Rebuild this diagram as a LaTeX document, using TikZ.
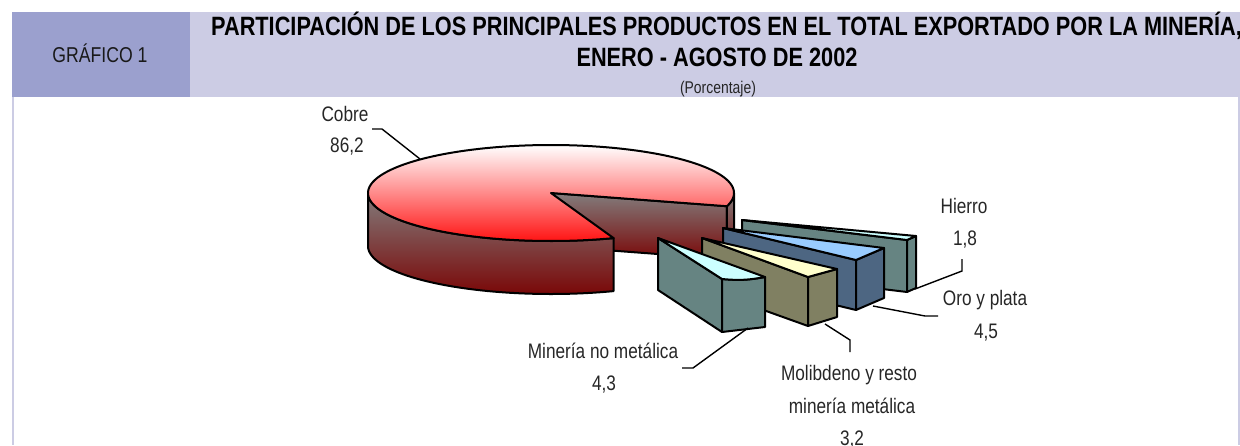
\documentclass[tikz,border=0pt]{standalone}
\usepackage{fontspec}
\setmainfont{Liberation Sans}[FakeStretch=0.82]
\definecolor{hdrdark}{RGB}{155,160,206}
\definecolor{hdrlight}{RGB}{204,204,228}
\definecolor{tealside}{RGB}{102,132,130}
\definecolor{lightcyan}{RGB}{204,255,255}
\definecolor{oroside}{RGB}{77,102,130}
\definecolor{orotop}{RGB}{153,204,255}
\definecolor{molside}{RGB}{128,128,98}
\definecolor{moltop}{RGB}{255,255,204}
\definecolor{pieside1}{RGB}{130,124,124}
\definecolor{pieside2}{RGB}{122,8,8}
\definecolor{pietop}{RGB}{255,20,20}
\tikzset{
  blk/.style={draw=black, line width=2pt, line join=round},
  pieline/.style={draw=black, line width=2pt, line join=round},
  ldr/.style={draw=black, line width=1.4pt},
  lbl/.style={font=\fontsize{21}{25}\selectfont, anchor=base, inner sep=0pt, text=black!85},
  frameline/.style={draw=hdrlight, line width=2pt}
}
\begin{document}
\begin{tikzpicture}[x=1pt,y=-1pt]
\useasboundingbox (0,0) rectangle (1240,445);
\clip (0,0) rectangle (1240,445);
% header
\fill[hdrdark] (12,12) rectangle (190,97);
\fill[hdrlight] (190,12) rectangle (1240,97);
\draw[frameline] (12.5,97) -- (12.5,445);
\draw[frameline] (1239,97) -- (1239,445);
\node[font=\fontsize{21.5}{25}\selectfont, anchor=base, inner sep=0pt, text=black!90] (gr) at (100,62) {GRÁFICO 1};
\node[font=\fontsize{26.5}{30}\selectfont\bfseries, anchor=base west, inner sep=0pt] (t1) at (211,35) {PARTICIPACIÓN DE LOS PRINCIPALES PRODUCTOS EN EL TOTAL EXPORTADO POR LA MINERÍA,};
\node[font=\fontsize{26.5}{30}\selectfont\bfseries, anchor=base, inner sep=0pt] (t2) at (717,66) {ENERO - AGOSTO DE 2002};
\node[font=\fontsize{17}{20}\selectfont, anchor=base, inner sep=0pt, text=black!85] (t3) at (718,93) {(Porcentaje)};
% pie: inner cut face
\draw[pieline, top color=pieside1, bottom color=pieside2]
  (551,193) -- (726.9,206.2) -- (726.9,259.2) -- (551,246) -- cycle;
% right strip of outer side
\draw[pieline, top color=pieside1, bottom color=pieside2]
  plot[domain=0:16, samples=20, variable=\t] ({551+183*cos(\t)},{193+48*sin(\t)})
  -- plot[domain=16:0, samples=20, variable=\t] ({551+183*cos(\t)},{246+48*sin(\t)}) -- cycle;
% front outer side
\draw[pieline, top color=pieside1, bottom color=pieside2]
  plot[domain=70:180, samples=80, variable=\t] ({551+183*cos(\t)},{193+48*sin(\t)})
  -- plot[domain=180:70, samples=80, variable=\t] ({551+183*cos(\t)},{246+48*sin(\t)}) -- cycle;
% top face
\draw[pieline, top color=white, bottom color=pietop]
  (551,193) -- plot[domain=70:376, samples=160, variable=\t] ({551+183*cos(\t)},{193+48*sin(\t)}) -- cycle;
% Hierro block
\coordinate (hA) at (742,220); \coordinate (hF) at (907,240); \coordinate (hB) at (916,236);
\coordinate (hAd) at (742,272); \coordinate (hFd) at (907,292); \coordinate (hBd) at (916,288);
\draw[blk, fill=tealside] (hA) -- (hF) -- (hFd) -- (hAd) -- cycle;
\draw[blk, fill=tealside] (hF) -- (hB) -- (hBd) -- (hFd) -- cycle;
\draw[blk, fill=lightcyan] (hA) -- (hF) -- (hB) -- cycle;
% Oro y plata block
\coordinate (oA) at (723,228); \coordinate (oF) at (856,260); \coordinate (oB) at (884,248);
\coordinate (oAd) at (723,278); \coordinate (oFd) at (856,310); \coordinate (oBd) at (884,298);
\draw[blk, fill=oroside] (oA) -- (oF) -- (oFd) -- (oAd) -- cycle;
\draw[blk, fill=oroside] (oF) -- (oB) -- (oBd) -- (oFd) -- cycle;
\draw[blk, fill=orotop] (oA) -- (oF) -- (oB) -- cycle;
% Molibdeno block
\coordinate (mA) at (702,238); \coordinate (mF) at (808,277); \coordinate (mB) at (837,269);
\coordinate (mAd) at (702,288); \coordinate (mFd) at (808,326); \coordinate (mBd) at (837,317);
\draw[blk, fill=molside] (mA) -- (mF) -- (mFd) -- (mAd) -- cycle;
\draw[blk, fill=molside] (mF) -- (mB) -- (mBd) -- (mFd) -- cycle;
\draw[blk, fill=moltop] (mA) -- (mF) -- (mB) -- cycle;
% Mineria no metalica block
\coordinate (nA) at (658,238); \coordinate (nF) at (722,279); \coordinate (nB) at (765,277);
\coordinate (nAd) at (658,290); \coordinate (nFd) at (722,332); \coordinate (nBd) at (765,327);
\draw[blk, fill=tealside] (nA) -- (nF) -- (nFd) -- (nAd) -- cycle;
\draw[blk, fill=tealside] (nF) to[bend right=8] (nB) -- (nBd) -- (nFd) -- cycle;
\draw[blk, fill=lightcyan] (nA) -- (nF) to[bend right=8] (nB) -- cycle;
% labels
\node[lbl] (cobre) at (345,121) {Cobre};
\node[lbl] (cobrev) at (347,152) {86,2};
\node[lbl] (hierro) at (964,213) {Hierro};
\node[lbl] (hierrov) at (965,245) {1,8};
\node[lbl] (oro) at (985,305) {Oro y plata};
\node[lbl] (orov) at (986,338) {4,5};
\node[lbl] (mol1) at (849,380) {Molibdeno y resto};
\node[lbl] (mol2) at (852,413) {minería metálica};
\node[lbl] (molv) at (852,445) {3,2};
\node[lbl] (nomet) at (603,358) {Minería no metálica};
\node[lbl] (nometv) at (604,390) {4,3};
% leaders
\coordinate (lc1) at (372,129); \coordinate (lc2) at (382,129); \coordinate (lc3) at (420,159);
\draw[ldr] (lc1) -- (lc2) -- (lc3);
\coordinate (lh1) at (915,289); \coordinate (lh2) at (962,271); \coordinate (lh3) at (962,259);
\draw[ldr] (lh1) -- (lh2) -- (lh3);
\coordinate (lo1) at (873,306); \coordinate (lo2) at (925,316); \coordinate (lo3) at (938,316);
\draw[ldr] (lo1) -- (lo2) -- (lo3);
\coordinate (lm1) at (825,324); \coordinate (lm2) at (850,340); \coordinate (lm3) at (850,352);
\draw[ldr] (lm1) -- (lm2) -- (lm3);
\coordinate (ln1) at (748,328); \coordinate (ln2) at (693,368); \coordinate (ln3) at (682,368);
\draw[ldr] (ln1) -- (ln2) -- (ln3);
\end{tikzpicture}
\end{document}
